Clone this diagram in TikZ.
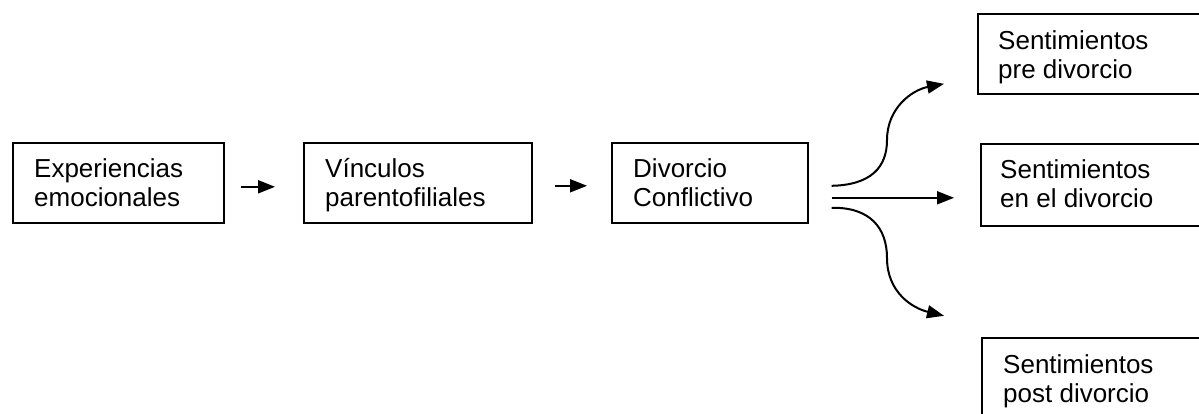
\documentclass[tikz,border=0pt]{standalone}
\usepackage{fontspec}
\setmainfont{Liberation Sans}
\usetikzlibrary{arrows.meta,calc}
\begin{document}
\begin{tikzpicture}[x=1pt,y=-1pt,
  box/.style={draw, line width=1.6pt, anchor=north west, inner sep=0pt},
  txt/.style={anchor=base west, inner sep=0pt, align=left, font=\fontsize{26}{29}\selectfont},
  conn/.style={line width=2pt, -{Triangle[length=17pt,width=13pt]}}]
\useasboundingbox (0,0) rectangle (1199,413);
\clip (0,0) rectangle (1199,413);
% boxes
\node[box, minimum width=211pt, minimum height=80pt] (b1) at (12,142) {};
\node[box, minimum width=228pt, minimum height=80pt] (b2) at (303,142) {};
\node[box, minimum width=196pt, minimum height=80pt] (b3) at (611,142) {};
\node[box, minimum width=260pt, minimum height=80pt] (s1) at (977,13) {};
\node[box, minimum width=260pt, minimum height=82pt] (s2) at (980,143) {};
\node[box, minimum width=260pt, minimum height=85pt] (s3) at (981,337) {};
% texts (anchor = baseline of the last line)
\node[txt] (t1) at ($(b1.north west)+(22,64)$) {Experiencias\\emocionales};
\node[txt] (t2) at ($(b2.north west)+(22,64)$) {Vínculos\\parentofiliales};
\node[txt] (t3) at ($(b3.north west)+(22,64)$) {Divorcio\\Conflictivo};
\node[txt] (u1) at ($(s1.north west)+(21,65)$) {Sentimientos\\pre divorcio};
\node[txt] (u2) at ($(s2.north west)+(20,64)$) {Sentimientos\\en el divorcio};
\node[txt] (u3) at ($(s3.north west)+(22,65)$) {Sentimientos\\post divorcio};
% connectors
\draw[conn] ([xshift=16pt,yshift=-4pt]b1.east) -- ([xshift=-28pt,yshift=-4pt]b2.west);
\draw[conn] ([xshift=22pt,yshift=-3pt]b2.east) -- ([xshift=-24pt,yshift=-3pt]b3.west);
\draw[conn] ([xshift=23pt,yshift=-3pt]b3.east) .. controls (870,185) and (887,168) .. (887,140)
  .. controls (887,108) and (912,90) .. ([xshift=-33pt,yshift=-30pt]s1.west);
\draw[conn] ([xshift=23pt,yshift=-15pt]b3.east) -- ([xshift=-26pt,yshift=-13pt]s2.west);
\draw[conn] ([xshift=23pt,yshift=-25pt]b3.east) .. controls (870,207) and (887,228) .. (887,258)
  .. controls (887,292) and (912,308) .. ([xshift=-37pt,yshift=64.5pt]s3.west);
\end{tikzpicture}
\end{document}
